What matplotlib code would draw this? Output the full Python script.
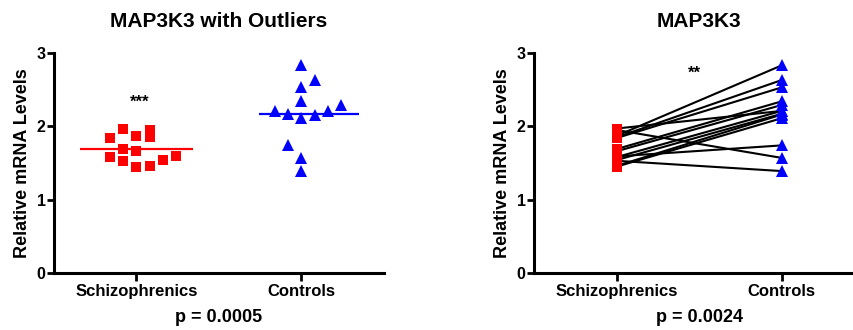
import numpy as np
import matplotlib
matplotlib.use("Agg")
import matplotlib.pyplot as plt

plt.rcParams["font.family"] = ["Liberation Sans", "DejaVu Sans"]
plt.rcParams["font.weight"] = "bold"

groups = ["Schizophrenics", "Controls"]

# relative mRNA levels per subject, paired by index
schizo = [1.84, 1.97, 1.87, 1.95, 1.85, 1.69, 1.66, 1.58, 1.53, 1.45, 1.46, 1.54, 1.59]
controls = [2.53, 2.21, 2.83, 1.57, 2.63, 2.34, 2.29, 2.21, 1.39, 2.11, 2.16, 2.17, 1.74]

# horizontal slot of each point in the scatter column
schizo_slot = [-2, -1, 0, 1, 1, -1, 0, -2, -1, 0, 1, 2, 3]
controls_slot = [0, -2, 0, 0, 1, 0, 3, 2, 0, 0, 1, -1, -1]

p_unpaired = "p = 0.0005"
p_paired = "p = 0.0024"

RED = "#ff0000"
BLUE = "#0000ff"
step = 0.08


def style_axes(ax, title, pval):
    ax.set_xlim(-0.5, 1.5)
    ax.set_ylim(0, 3)
    ax.set_yticks([0, 1, 2, 3])
    ax.set_xticks([0, 1])
    ax.set_xticklabels(groups, fontsize=12, fontweight="bold")
    ax.tick_params(axis="y", labelsize=11.5, width=2, length=5, pad=1)
    ax.tick_params(axis="x", width=2, length=6, pad=2)
    for lbl in ax.get_yticklabels():
        lbl.set_fontweight("bold")
    for side in ["top", "right"]:
        ax.spines[side].set_visible(False)
    for side in ["left", "bottom"]:
        ax.spines[side].set_linewidth(2.2)
    ax.set_ylabel("Relative mRNA Levels", fontsize=13, fontweight="bold", labelpad=4)
    ax.set_xlabel(pval, fontsize=13, fontweight="bold", labelpad=7)
    ax.set_title(title, fontsize=15, fontweight="bold", pad=19)


fig = plt.figure(figsize=(8.54, 3.30), dpi=100)
ax1 = fig.add_axes([54 / 854, 57 / 330, 330 / 854, 220 / 330])
ax2 = fig.add_axes([534 / 854, 57 / 330, 330 / 854, 220 / 330])

# scatter with group means
x_s = 0 + step * np.array(schizo_slot)
x_c = 1 + step * np.array(controls_slot)
ax1.plot(x_s, schizo, "s", color=RED, markersize=7.5, markeredgewidth=0, zorder=3)
ax1.plot(x_c, controls, "^", color=BLUE, markersize=9, markeredgewidth=0, zorder=3)
ax1.hlines(np.mean(schizo), -0.34, 0.34, color=RED, lw=1.6, zorder=2)
ax1.hlines(np.mean(controls), 1 - 0.26, 1 + 0.35, color=BLUE, lw=1.6, zorder=2)
ax1.text(0.02, 2.33, "***", ha="center", va="center", fontsize=12, fontweight="bold")
style_axes(ax1, "MAP3K3 with Outliers", p_unpaired)

# before/after style paired lines
for a, b in zip(schizo, controls):
    ax2.plot([0, 1], [a, b], color="black", lw=1.5, zorder=2)
ax2.plot([0] * len(schizo), schizo, "s", color=RED, markersize=7.5, markeredgewidth=0, zorder=3)
ax2.plot([1] * len(controls), controls, "^", color=BLUE, markersize=9, markeredgewidth=0, zorder=3)
ax2.text(0.47, 2.73, "**", ha="center", va="center", fontsize=12, fontweight="bold")
style_axes(ax2, "MAP3K3", p_paired)

fig.savefig("out.png", dpi=100)
